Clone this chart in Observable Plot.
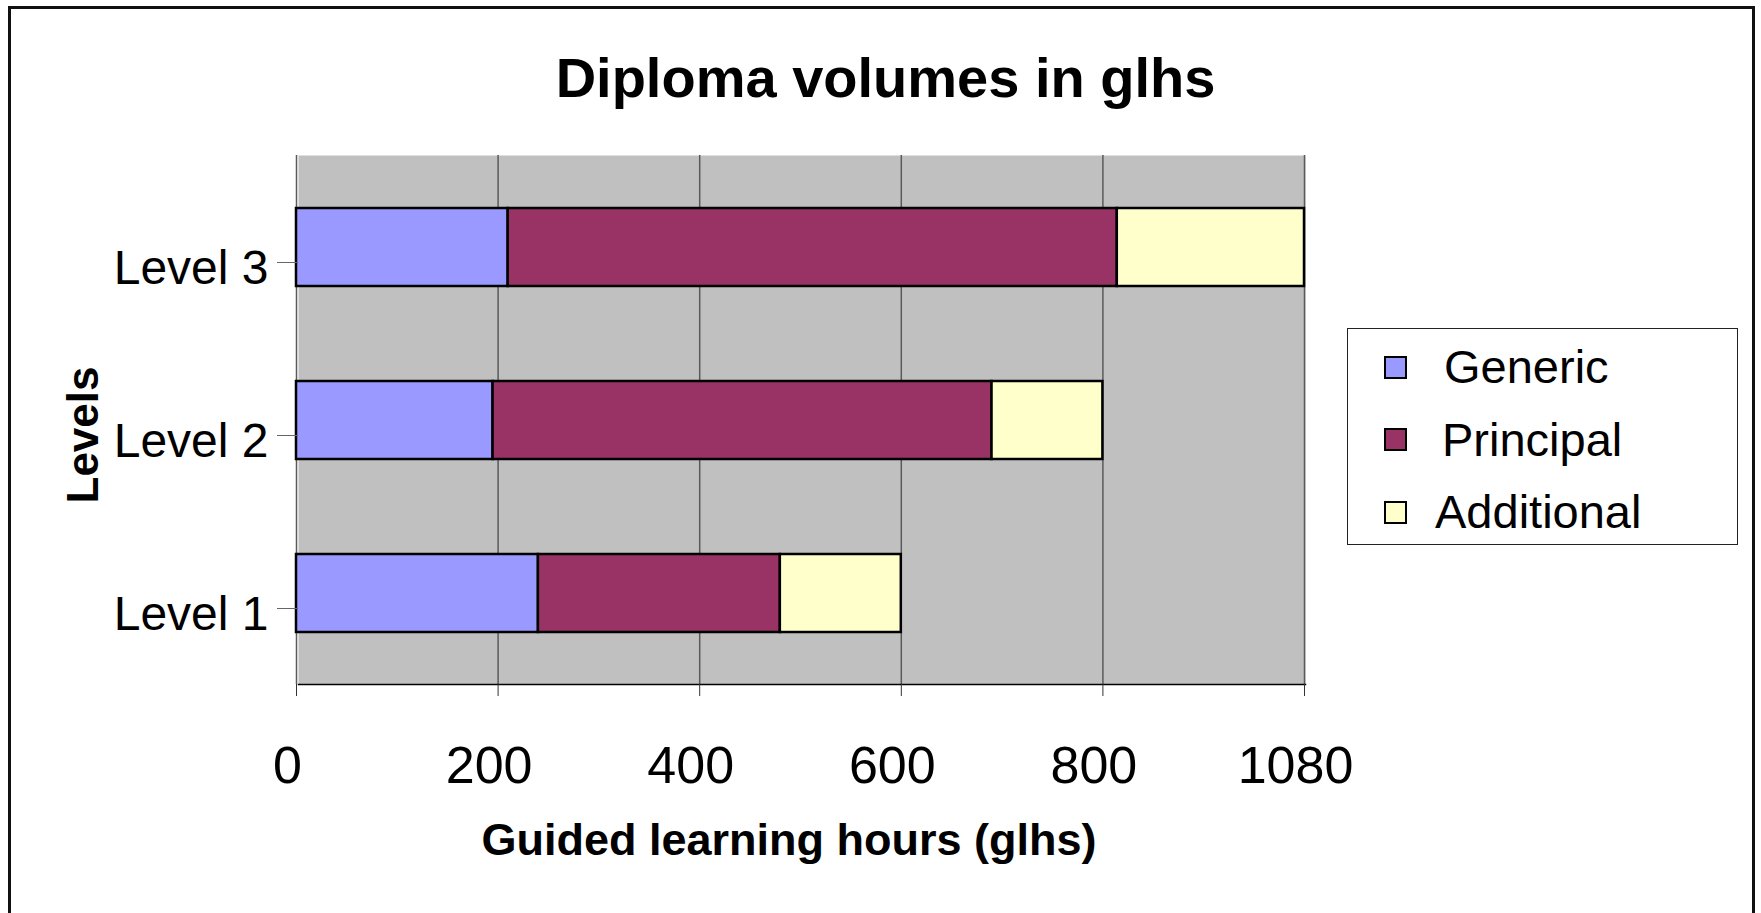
<!DOCTYPE html>
<html>
<head>
<meta charset="utf-8">
<script src="https://cdn.jsdelivr.net/npm/d3@7"></script>
<script src="https://cdn.jsdelivr.net/npm/@observablehq/plot@0.6"></script>
<style>
html, body { margin: 0; padding: 0; background: #fff; overflow: hidden; }
#wrap { position: relative; width: 1761px; height: 913px; overflow: hidden; font-family: "Liberation Sans", Arial, sans-serif; }
#chart { position: absolute; left: 0; top: 0; }
#border { position: absolute; left: 8px; top: 6px; width: 1747px; height: 1000px; border: 3px solid #111; box-sizing: border-box; pointer-events: none; }
#title { position: absolute; left: 0; top: 50px; width: 1771px; text-align: center; font-weight: bold; font-size: 56px; line-height: 1; color: #000; }
#legend { position: absolute; left: 1347px; top: 328px; width: 391px; height: 217px; border: 1.5px solid #222; box-sizing: border-box; background: #fff; padding: 2px 0 0 36px; }
.row { display: flex; align-items: center; height: 72.5px; }
.sw { width: 23px; height: 23px; border: 2.5px solid #000; box-sizing: border-box; flex: none; }
.lbl { font-size: 47px; line-height: 72.5px; margin-left: 37px; color: #000; white-space: nowrap; }
</style>
</head>
<body>
<div id="wrap">
  <div id="chart"></div>
  <div id="title"></div>
  <div id="legend"></div>
  <div id="border"></div>
</div>
<script>
// ---- data ----
const titleText = "Diploma volumes in glhs";
const xTitle = "Guided learning hours (glhs)";
const yTitle = "Levels";
const levels = ["Level 1", "Level 2", "Level 3"];
const series = ["Generic", "Principal", "Additional"];
const generic = [240, 195, 210];
const principal = [240, 495, 610];
const additional = [120, 110, 260];
const xTicks = [0, 200, 400, 600, 800, 1080];
const xTickLabels = ["0", "200", "400", "600", "800", "1080"];
const colors = ["#9999ff", "#993366", "#ffffcc"];

// ---- build table ----
// The original axis places its tick values at equal spacing (0,200,...,800,1080),
// so values are mapped onto tick-index units before Plot's linear x scale.
const toAxis = d3.scaleLinear().domain(xTicks).range(xTicks.map((_, i) => i));
const valuesBySeries = [generic, principal, additional];
const rows = levels.flatMap((level, i) => {
  let acc = 0;
  return series.map((s, j) => {
    const v = valuesBySeries[j][i];
    const r = {level, series: s, value: v, start: acc, end: acc + v};
    acc += v;
    return r;
  });
});
const tickIdx = xTicks.map((_, i) => i);

const W = 1761, H = 913;
const mL = 298, mR = 456, mT = 155, mB = 229;

const chart = Plot.plot({
  width: W,
  height: H,
  marginLeft: mL,
  marginRight: mR,
  marginTop: mT,
  marginBottom: mB,
  style: {fontFamily: "'Liberation Sans', Arial, sans-serif", background: "transparent", color: "#000"},
  x: {type: "linear", domain: [0, xTicks.length - 1], range: [mL - 2, W - mR - 1]},
  y: {domain: [...levels].reverse(), paddingInner: 0.55, paddingOuter: 0.3, align: 0.5},
  color: {domain: series, range: colors},
  marks: [
    Plot.frame({fill: "#c0c0c0", stroke: null}),
    Plot.gridX({ticks: tickIdx, stroke: "#5a5a5a", strokeOpacity: 1, strokeWidth: 1.5}),
    Plot.barX(rows, {
      x1: (d) => toAxis(d.start), x2: (d) => toAxis(d.end), y: "level", fill: "series",
      stroke: "#000", strokeWidth: 2.5
    }),
    Plot.frame({anchor: "bottom", stroke: "#000", strokeWidth: 1.5}),
    Plot.axisX({ticks: tickIdx, tickSize: 12, tickFormat: () => "", label: null, stroke: "#333"}),
    Plot.axisX({
      ticks: tickIdx, tickSize: 0, tickPadding: 62, fontSize: 52, dx: -9,
      tickFormat: (i) => xTickLabels[i], label: null
    }),
    Plot.axisY({tickSize: 21, tickFormat: () => "", dy: 15, stroke: "#666", label: null}),
    Plot.axisY({tickSize: 0, tickPadding: 30, dy: 21, fontSize: 48, label: null}),
    Plot.text([yTitle], {text: (d) => d, frameAnchor: "left", textAnchor: "middle", rotate: -90, dx: -215, dy: 15,
      fontSize: 44, fontWeight: "bold", fill: "#000"}),
    Plot.text([xTitle], {text: (d) => d, frameAnchor: "bottom", lineAnchor: "bottom", dx: -13, dy: 170,
      fontSize: 45, fontWeight: "bold", fill: "#000"})
  ]
});
document.getElementById("chart").appendChild(chart);

document.getElementById("title").textContent = titleText;
const legend = document.getElementById("legend");
const lblOffsets = [0, -2, -9];
series.forEach((s, i) => {
  const row = document.createElement("div");
  row.className = "row";
  const sw = document.createElement("div");
  sw.className = "sw";
  sw.style.background = colors[i];
  const lbl = document.createElement("span");
  lbl.className = "lbl";
  lbl.style.marginLeft = (37 + lblOffsets[i]) + "px";
  lbl.textContent = s;
  row.appendChild(sw);
  row.appendChild(lbl);
  legend.appendChild(row);
});
</script>
</body>
</html>
